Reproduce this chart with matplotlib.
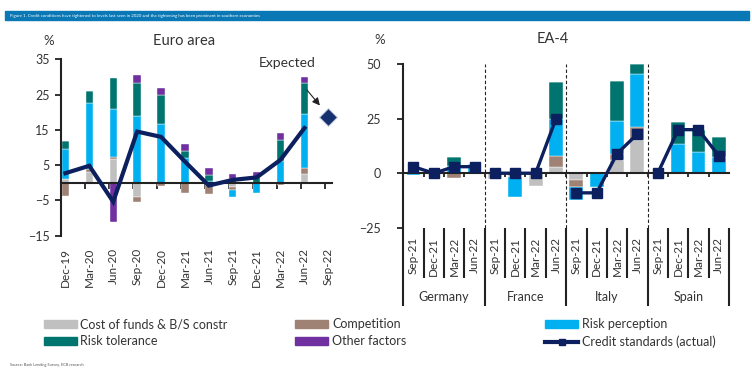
import numpy as np
import matplotlib
matplotlib.use('Agg')
import matplotlib.pyplot as plt
from matplotlib.patches import Patch, Rectangle
from matplotlib.lines import Line2D

plt.rcParams['font.family'] = ['Lato', 'DejaVu Sans']

# colours
C_COST = '#c0c0c0'
C_COMP = '#9f8274'
C_PERC = '#00b0f0'
C_TOL = '#00746f'
C_OTHER = '#7030a0'
C_NAVY = '#0c1f5e'
AXC = '#222222'

# ---- Euro area data
ea_dates = ['Dec-19', 'Mar-20', 'Jun-20', 'Sep-20', 'Dec-20', 'Mar-21',
            'Jun-21', 'Sep-21', 'Dec-21', 'Mar-22', 'Jun-22', 'Sep-22']
ea_cost = [1.0, 3.1, 6.6, -4.0, 0.0, 0.0, -0.7, -1.2, 0.0, 0.0, 2.6, np.nan]
ea_comp = [-3.8, 0.7, 0.7, -1.4, -1.0, -3.0, -2.5, -1.0, 0.0, -0.6, 1.7, np.nan]
ea_perc = [8.5, 18.7, 13.5, 18.9, 16.7, 7.1, 0.5, -1.9, -3.0, 6.2, 15.2, np.nan]
ea_tol = [2.4, 3.6, 9.0, 9.4, 8.2, 1.9, 1.7, 1.0, 1.7, 5.8, 8.7, np.nan]
ea_other = [0.0, 0.0, -11.2, 2.2, 2.0, 2.0, 1.9, 1.4, 1.2, 2.1, 1.9, np.nan]
ea_credit = [2.7, 4.8, -5.4, 14.5, 13.0, 6.0, -0.8, 0.8, 1.5, 6.5, 15.5, np.nan]
ea_expected = 18.6

# ---- EA-4 data
ea4_dates = ['Sep-21', 'Dec-21', 'Mar-22', 'Jun-22'] * 4
countries = ['Germany', 'France', 'Italy', 'Spain']
ea4_cost = [0, 0, 0, 0, -2.8, -1.8, -5.7, 2.8, -3.0, 0, 6.1, 15.3, 0, 0, 0, 0]
ea4_comp = [0, 0, -2.0, 0, 0, 0, 0, 5.3, -3.1, 0, 2.8, 5.8, 0, 0, 0, 0]
ea4_perc = [-0.9, 0, 3.5, 4.3, 0, -9.2, 0, 16.8, -6.1, -6.1, 15.3, 24.5, 0, 13.3, 9.9, 7.6]
ea4_tol = [0, 0, 4.0, 0, 0, 0, 0, 16.8, 0, 0, 18.3, 4.6, 0, 10.1, 10.0, 9.2]
ea4_other = [0] * 16
ea4_credit = [3, 0, 3, 3, 0, 0, 0, 25, -9, -9, 9, 18, 0, 20, 20, 8]

factor_names = ['Cost of funds & B/S constr', 'Competition', 'Risk perception',
                'Risk tolerance', 'Other factors']
factor_colors = [C_COST, C_COMP, C_PERC, C_TOL, C_OTHER]


def stacked_bars(ax, x, series, width):
    pos = np.zeros(len(x))
    neg = np.zeros(len(x))
    for vals, col in zip(series, factor_colors):
        v = np.nan_to_num(np.array(vals, dtype=float))
        bottom = np.where(v >= 0, pos, neg)
        ax.bar(x, v, width, bottom=bottom, color=col, edgecolor='white',
               linewidth=0.3, zorder=2)
        pos = pos + np.where(v > 0, v, 0)
        neg = neg + np.where(v < 0, v, 0)


fig = plt.figure(figsize=(7.52, 3.88), dpi=100)

# header band
fig.patches.append(Rectangle((5 / 752, 1 - 19.5 / 388), 744 / 752, 8 / 388,
                             transform=fig.transFigure, color='#0a78b4', zorder=0))
fig.text(10 / 752, 1 - 15.5 / 388,
         'Figure 1. Credit conditions have tightened to levels last seen in 2020 and the '
         'tightening has been prominent in southern economies',
         color='white', fontsize=3.2, va='center')
fig.text(10 / 752, 1 - 365 / 388, 'Source: Bank Lending Survey, ECB research',
         color='#555555', fontsize=2.8, va='center')

# ---- left: Euro area
ax1 = fig.add_axes([61 / 752, 1 - 235.6 / 388, 270.7 / 752, 176.3 / 388])
x1 = np.arange(len(ea_dates))
stacked_bars(ax1, x1, [ea_cost, ea_comp, ea_perc, ea_tol, ea_other], 0.31)
ax1.plot(x1, ea_credit, color=C_NAVY, lw=3.0, zorder=4, solid_joinstyle='miter')
ax1.plot([x1[-1]], [ea_expected], marker='D', ms=9.5, color='#15306e',
         mec='#c9d0df', mew=0.8, zorder=5, ls='none', clip_on=False)
ax1.annotate('', xy=(10.72, 21.3), xytext=(10.03, 26.9),
             arrowprops=dict(arrowstyle='-|>', color=AXC, lw=0.8, mutation_scale=11),
             zorder=6)
ax1.text(9.26, 34.0, 'Expected', ha='center', va='center', fontsize=10, color='#333333')
ax1.set_xlim(-0.184, 11.14)
ax1.set_ylim(-15, 35)
ax1.set_yticks([-15, -5, 5, 15, 25, 35])
ax1.tick_params(axis='y', labelsize=9, length=4, width=1.3, color=AXC, pad=4,
                labelcolor='#333333')
for s in ['top', 'right']:
    ax1.spines[s].set_visible(False)
ax1.spines['left'].set_linewidth(1.5)
ax1.spines['left'].set_color(AXC)
ax1.spines['bottom'].set_position(('data', 0))
ax1.spines['bottom'].set_linewidth(1.5)
ax1.spines['bottom'].set_color(AXC)
ax1.set_xticks(x1 - 0.16)
ax1.tick_params(axis='x', length=4, width=1.3, color=AXC, labelbottom=False)
sec1 = ax1.secondary_xaxis('bottom')
sec1.set_xticks(x1, ea_dates, rotation=90)
sec1.tick_params(length=0, pad=9, labelsize=8.5, labelcolor='#333333')
sec1.spines['bottom'].set_visible(False)
fig.text(184 / 752, 1 - 41 / 388, 'Euro area', ha='center', va='center',
         fontsize=10.5, color='#333333')
fig.text(49 / 752, 1 - 41 / 388, '%', ha='center', va='center', fontsize=9.5,
         color='#333333')

# ---- right: EA-4
ax2 = fig.add_axes([403.3 / 752, 1 - 227.7 / 388, 325.7 / 752, 163.4 / 388])
x2 = np.arange(len(ea4_dates))
stacked_bars(ax2, x2, [ea4_cost, ea4_comp, ea4_perc, ea4_tol, ea4_other], 0.68)
for k in range(4):
    sl = slice(4 * k, 4 * k + 4)
    ax2.plot(x2[sl], ea4_credit[sl], color=C_NAVY, lw=2.4, marker='s', ms=6.5,
             zorder=4)
for b in [3.5, 7.5, 11.5]:
    ax2.axvline(b, color=AXC, lw=0.8, ls=(0, (3, 2)), zorder=1)
ax2.set_xlim(-0.5, 15.5)
ax2.set_ylim(-25, 50)
ax2.set_yticks([-25, 0, 25, 50])
ax2.tick_params(axis='y', labelsize=9, length=4, width=1.3, color=AXC, pad=12,
                labelcolor='#333333')
for s in ['top', 'right']:
    ax2.spines[s].set_visible(False)
ax2.spines['left'].set_linewidth(1.5)
ax2.spines['left'].set_color(AXC)
ax2.spines['bottom'].set_position(('data', 0))
ax2.spines['bottom'].set_linewidth(1.5)
ax2.spines['bottom'].set_color(AXC)
ax2.set_xticks(np.arange(0.5, 15, 1))
ax2.tick_params(axis='x', length=3, width=1.3, color=AXC, labelbottom=False)

sep = ax2.secondary_xaxis('bottom')
sep.set_xticks([-0.5, 3.5, 7.5, 11.5, 15.5])
sep.set_xticks([b for b in np.arange(0.5, 15, 1) if b not in (3.5, 7.5, 11.5)],
               minor=True)
sep.tick_params(which='major', length=56, width=1.5, color=AXC, labelbottom=False)
sep.tick_params(which='minor', length=36, width=1.5, color=AXC, labelbottom=False)
sep.spines['bottom'].set_visible(False)

lab2 = ax2.secondary_xaxis('bottom')
lab2.set_xticks(x2, ea4_dates, rotation=90)
lab2.tick_params(length=0, pad=6.5, labelsize=8.5, labelcolor='#333333')
lab2.spines['bottom'].set_visible(False)
for k, name in enumerate(countries):
    ax2.text(4 * k + 1.5, -0.424, name, transform=ax2.get_xaxis_transform(),
             ha='center', va='center', fontsize=9, color='#333333')
fig.text(552.7 / 752, 1 - 39 / 388, 'EA-4', ha='center', va='center',
         fontsize=10.5, color='#333333')
fig.text(380 / 752, 1 - 40 / 388, '%', ha='center', va='center', fontsize=9.5,
         color='#333333')

# ---- legend
handles = [Patch(color=c) for c in factor_colors]
h_line = Line2D([], [], color=C_NAVY, lw=3, marker='s', ms=4)
groups = [([handles[0], handles[3]], [factor_names[0], factor_names[3]], 43.5),
          ([handles[1], handles[4]], [factor_names[1], factor_names[4]], 295),
          ([handles[2], h_line], [factor_names[2], 'Credit standards (actual)'], 545)]
for hs, ls, xpx in groups:
    fig.legend(hs, ls, loc='upper left', bbox_to_anchor=(xpx / 752, 1 - 318.5 / 388),
               frameon=False, fontsize=9, borderpad=0, borderaxespad=0,
               handlelength=2.64, handleheight=0.56, handletextpad=0.32,
               labelspacing=0.38, labelcolor='#333333')

fig.savefig('out.png', dpi=100)
